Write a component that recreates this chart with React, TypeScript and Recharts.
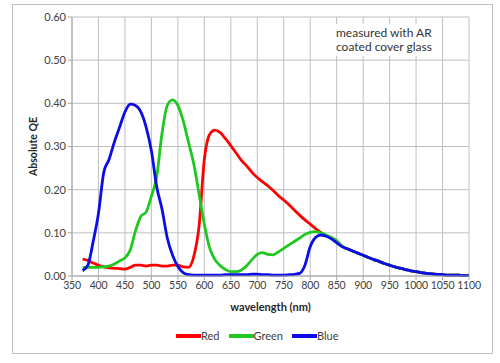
import React from 'react';
import { LineChart, Line, XAxis, YAxis, CartesianGrid } from 'recharts';

// wavelength samples (nm)
const wavelengths = [
  370, 380, 390, 400, 410, 420, 430, 440, 450, 460, 470, 480, 490, 500, 510, 520, 530, 540, 550, 560,
  570, 580, 590, 600, 610, 620, 630, 640, 650, 660, 670, 680, 690, 700, 710, 720, 730, 740, 750, 760,
  770, 780, 790, 800, 810, 820, 830, 840, 850, 860, 870, 880, 890, 900, 910, 920, 930, 940, 950, 960,
  970, 980, 990, 1000, 1010, 1020, 1030, 1040, 1050, 1060, 1070, 1080, 1090, 1100,
];

const red = [
  0.039, 0.036, 0.03, 0.025, 0.021, 0.019, 0.018, 0.017, 0.016, 0.02, 0.025, 0.025, 0.023, 0.025, 0.025, 0.023, 0.023, 0.025, 0.025, 0.021,
  0.02, 0.045, 0.115, 0.27, 0.328, 0.338, 0.332, 0.318, 0.302, 0.285, 0.268, 0.255, 0.24, 0.228, 0.218, 0.209, 0.198, 0.186, 0.176, 0.165,
  0.153, 0.141, 0.13, 0.12, 0.11, 0.101, 0.094, 0.088, 0.081, 0.069, 0.063, 0.058, 0.053, 0.048, 0.043, 0.038, 0.034, 0.029, 0.025, 0.021,
  0.018, 0.015, 0.012, 0.01, 0.008, 0.006, 0.005, 0.004, 0.003, 0.002, 0.002, 0.002, 0.001, 0.001,
];

const green = [
  0.02, 0.02, 0.02, 0.02, 0.021, 0.023, 0.028, 0.035, 0.042, 0.06, 0.105, 0.138, 0.148, 0.185, 0.23, 0.33, 0.395, 0.408, 0.395, 0.36,
  0.31, 0.26, 0.19, 0.12, 0.065, 0.038, 0.024, 0.015, 0.01, 0.01, 0.014, 0.024, 0.038, 0.05, 0.054, 0.05, 0.049, 0.056, 0.064, 0.072,
  0.08, 0.088, 0.096, 0.101, 0.103, 0.1, 0.095, 0.089, 0.082, 0.069, 0.063, 0.058, 0.053, 0.048, 0.043, 0.038, 0.034, 0.029, 0.025, 0.021,
  0.018, 0.015, 0.012, 0.01, 0.008, 0.006, 0.005, 0.004, 0.003, 0.002, 0.002, 0.002, 0.001, 0.001,
];

const blue = [
  0.012, 0.025, 0.08, 0.145, 0.24, 0.27, 0.31, 0.345, 0.38, 0.398, 0.395, 0.38, 0.345, 0.29, 0.207, 0.155, 0.088, 0.048, 0.022, 0.008,
  0.003, 0.002, 0.002, 0.002, 0.002, 0.002, 0.002, 0.003, 0.003, 0.003, 0.003, 0.003, 0.004, 0.004, 0.003, 0.003, 0.002, 0.002, 0.002, 0.003,
  0.004, 0.006, 0.025, 0.068, 0.089, 0.095, 0.092, 0.086, 0.077, 0.068, 0.063, 0.058, 0.053, 0.048, 0.043, 0.038, 0.034, 0.029, 0.025, 0.021,
  0.018, 0.015, 0.012, 0.01, 0.008, 0.006, 0.005, 0.004, 0.003, 0.002, 0.002, 0.002, 0.001, 0.001,
];

const xTicks = [350, 400, 450, 500, 550, 600, 650, 700, 750, 800, 850, 900, 950, 1000, 1050, 1100];
const yTicks = [0, 0.1, 0.2, 0.3, 0.4, 0.5, 0.6];

const series = [
  { key: 'red', name: 'Red', color: '#ff0000' },
  { key: 'green', name: 'Green', color: '#1ec81e' },
  { key: 'blue', name: 'Blue', color: '#0c0ce6' },
];

const data = wavelengths.map((w, i) => ({ w, red: red[i], green: green[i], blue: blue[i] }));

const FONT = 'Lato, "Open Sans", sans-serif';
const TEXT = '#404040';
const GRID = '#bfbfbf';

export default function App() {
  return (
    <div style={{ position: 'absolute', left: 0, top: 0, width: 500, height: 363, background: '#fff', fontFamily: FONT }}>
      <div
        style={{
          position: 'absolute',
          left: 12,
          top: 4,
          width: 479,
          height: 348,
          border: '1px solid #bfbfbf',
        }}
      />
      <LineChart
        width={500}
        height={363}
        data={data}
        margin={{ top: 17, right: 31, bottom: 52, left: 0 }}
        style={{ position: 'absolute', left: 0, top: 0 }}
      >
        <CartesianGrid stroke={GRID} strokeWidth={1} />
        <XAxis
          dataKey="w"
          type="number"
          domain={[350, 1100]}
          ticks={xTicks}
          interval={0}
          height={35}
          stroke="#a6a6a6"
          tickSize={4}
          tick={{ fill: TEXT, fontSize: 10.5, fontFamily: FONT, letterSpacing: -0.2 }}
          label={{
            value: 'wavelength (nm)',
            position: 'insideBottom',
            offset: 0,
            style: { fill: '#262626', fontSize: 11, fontWeight: 'bold', fontFamily: FONT },
          }}
        />
        <YAxis
          type="number"
          domain={[0, 0.6]}
          ticks={yTicks}
          width={72}
          stroke="#a6a6a6"
          tickSize={4}
          tickFormatter={(v: number) => v.toFixed(2)}
          tick={{ fill: TEXT, fontSize: 11, fontFamily: FONT }}
          label={{
            value: 'Absolute QE',
            angle: -90,
            position: 'insideLeft',
            offset: 33,
            style: { textAnchor: 'middle', fill: '#262626', fontSize: 10.5, fontWeight: 'bold', fontFamily: FONT },
          }}
        />
        {series.map((s) => (
          <Line
            key={s.key}
            dataKey={s.key}
            name={s.name}
            type="monotone"
            stroke={s.color}
            strokeWidth={2.8}
            dot={false}
            isAnimationActive={false}
          />
        ))}
      </LineChart>
      <div
        style={{
          position: 'absolute',
          left: 333,
          top: 24,
          width: 98,
          padding: '2px 3px',
          background: '#fff',
          color: '#333',
          fontSize: 12,
          lineHeight: '14px',
        }}
      >
        measured with AR coated cover glass
      </div>
      <div style={{ position: 'absolute', left: 176, top: 329, display: 'flex', alignItems: 'center', fontSize: 11, color: TEXT }}>
        {series.map((s, i) => (
          <div key={s.key} style={{ display: 'flex', alignItems: 'center', marginLeft: i === 0 ? 0 : 9 }}>
            <span style={{ display: 'inline-block', width: 25, height: 4, background: s.color }} />
            <span>{s.name}</span>
          </div>
        ))}
      </div>
    </div>
  );
}
